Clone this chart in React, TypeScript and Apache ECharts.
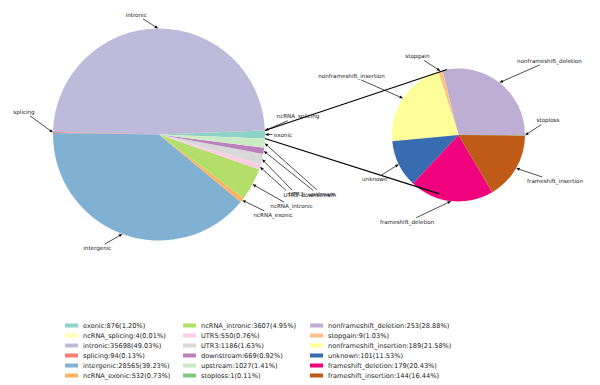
import React, { useEffect, useRef } from "react";
import * as echarts from "echarts";

// ---------- data ----------
const LEFT_NAMES = ["exonic", "ncRNA_splicing", "intronic", "splicing", "intergenic", "ncRNA_exonic", "ncRNA_intronic", "UTR5", "UTR3", "downstream", "upstream"];
const LEFT_VALUES = [876, 4, 35698, 94, 28565, 532, 3607, 550, 1186, 669, 1027];
const LEFT_COLORS = ["#8dd3c7", "#ffffb3", "#bebada", "#fb8072", "#80b1d3", "#fdb462", "#b3de69", "#fccde5", "#d9d9d9", "#bc80bd", "#ccebc5"];

const RIGHT_NAMES = ["nonframeshift_deletion", "stopgain", "nonframeshift_insertion", "unknown", "frameshift_deletion", "frameshift_insertion", "stoploss"];
const RIGHT_VALUES = [253, 9, 189, 101, 179, 144, 1];
const RIGHT_COLORS = ["#beaed4", "#fdc086", "#ffff99", "#386cb0", "#f0027f", "#bf5b17", "#7fc97f"];

const LEGEND_COL1 = ["exonic", "ncRNA_splicing", "intronic", "splicing", "intergenic", "ncRNA_exonic"];
const LEGEND_COL2 = ["ncRNA_intronic", "UTR5", "UTR3", "downstream", "upstream", "stoploss"];
const LEGEND_COL3 = ["nonframeshift_deletion", "stopgain", "nonframeshift_insertion", "unknown", "frameshift_deletion", "frameshift_insertion"];

// ---------- layout ----------
const LEFT_CENTER = [159, 134.5];
const LEFT_R = 106;
const RIGHT_CENTER = [458.5, 135];
const RIGHT_R = 66.5;
const FONT = "DejaVu Sans";
const LABEL_SIZE = 5.6;
const LEGEND_SIZE = 6.6;

// label text centre offset from arrow tip (px)
const LABEL_OFFSETS: Record<string, [number, number]> = {
  exonic: [18, 0],
  ncRNA_splicing: [33, -14],
  intronic: [-22, -14],
  splicing: [-29, -21],
  intergenic: [-25, 14.5],
  ncRNA_exonic: [31, 15],
  ncRNA_intronic: [39, 22],
  UTR5: [31, 28],
  UTR3: [34, 35],
  downstream: [55, 44],
  upstream: [57, 51],
  nonframeshift_deletion: [50, -22],
  stopgain: [-23, -15],
  nonframeshift_insertion: [-51.5, -22.5],
  unknown: [-24, 15],
  frameshift_deletion: [-44, 21],
  frameshift_insertion: [39, 13],
  stoploss: [23, -15],
};

const sum = (a: number[]) => a.reduce((s, v) => s + v, 0);
const LEFT_TOTAL = sum(LEFT_VALUES);
const RIGHT_TOTAL = sum(RIGHT_VALUES);
const LEFT_START = (-180 * LEFT_VALUES[0]) / LEFT_TOTAL;
const RIGHT_START = 0;

function midAngles(values: number[], start: number) {
  const total = sum(values);
  let acc = start;
  return values.map((v) => {
    const sweep = (v / total) * 360;
    const mid = acc + sweep / 2;
    acc += sweep;
    return mid;
  });
}

const rad = (d: number) => (d * Math.PI) / 180;
const polar = (c: number[], r: number, deg: number) => [c[0] + r * Math.cos(rad(deg)), c[1] - r * Math.sin(rad(deg))];

type Annot = { name: string; tip: number[] };
const LEFT_MIDS = midAngles(LEFT_VALUES, LEFT_START);
const RIGHT_MIDS = midAngles(RIGHT_VALUES, RIGHT_START);
const ANNOTS: Annot[] = [
  ...LEFT_NAMES.map((n, i) => ({ name: n, tip: polar(LEFT_CENTER, LEFT_R, LEFT_MIDS[i]) })),
  ...RIGHT_NAMES.map((n, i) => ({ name: n, tip: polar(RIGHT_CENTER, RIGHT_R, RIGHT_MIDS[i]) })),
];

const LEGEND_TEXT: Record<string, string> = {};
LEFT_NAMES.forEach((n, i) => {
  LEGEND_TEXT[n] = `${n}:${LEFT_VALUES[i]}(${((LEFT_VALUES[i] / LEFT_TOTAL) * 100).toFixed(2)}%)`;
});
RIGHT_NAMES.forEach((n, i) => {
  LEGEND_TEXT[n] = `${n}:${RIGHT_VALUES[i]}(${((RIGHT_VALUES[i] / RIGHT_TOTAL) * 100).toFixed(2)}%)`;
});

let ctx: CanvasRenderingContext2D | null = null;
function textWidth(t: string) {
  if (!ctx) ctx = document.createElement("canvas").getContext("2d");
  if (!ctx) return t.length * 3.2;
  ctx.font = `${LABEL_SIZE}px "${FONT}"`;
  return ctx.measureText(t).width;
}

function renderAnnot(params: any) {
  const a = ANNOTS[params.dataIndex];
  const off = LABEL_OFFSETS[a.name] || [20, 0];
  const cx = a.tip[0] + off[0];
  const cy = a.tip[1] + off[1];
  const hw = textWidth(a.name) / 2 + 1.5;
  const hh = LABEL_SIZE / 2 + 1.5;
  const dx = a.tip[0] - cx;
  const dy = a.tip[1] - cy;
  const t = Math.min(dx !== 0 ? hw / Math.abs(dx) : Infinity, dy !== 0 ? hh / Math.abs(dy) : Infinity);
  const sx = cx + dx * Math.min(t, 1);
  const sy = cy + dy * Math.min(t, 1);
  const len = Math.hypot(a.tip[0] - sx, a.tip[1] - sy) || 1;
  const ux = (a.tip[0] - sx) / len;
  const uy = (a.tip[1] - sy) / len;
  const hl = 3.6;
  const hwid = 1.5;
  const bx = a.tip[0] - ux * hl;
  const by = a.tip[1] - uy * hl;
  const children: any[] = [
    {
      type: "line",
      shape: { x1: sx, y1: sy, x2: bx, y2: by },
      style: { stroke: "#000", lineWidth: 0.7 },
    },
    {
      type: "polygon",
      shape: {
        points: [
          [a.tip[0], a.tip[1]],
          [bx - uy * hwid, by + ux * hwid],
          [bx + uy * hwid, by - ux * hwid],
        ],
      },
      style: { fill: "#000" },
    },
    {
      type: "text",
      x: cx,
      y: cy,
      style: {
        text: a.name,
        fontSize: LABEL_SIZE,
        fontFamily: FONT,
        fill: "#1a1a1a",
        align: "center",
        verticalAlign: "middle",
      },
    },
  ];
  return { type: "group", children };
}

function renderConnect() {
  const p1 = polar(LEFT_CENTER, LEFT_R, -LEFT_START);
  const p2 = polar(LEFT_CENTER, LEFT_R, LEFT_START);
  const q1 = polar(RIGHT_CENTER, RIGHT_R, 100);
  const q2 = polar(RIGHT_CENTER, RIGHT_R * 0.93, 252);
  return {
    type: "group",
    children: [
      { type: "line", shape: { x1: p1[0], y1: p1[1], x2: q1[0], y2: q1[1] }, style: { stroke: "#000", lineWidth: 1.2 } },
      { type: "line", shape: { x1: p2[0], y1: p2[1], x2: q2[0], y2: q2[1] }, style: { stroke: "#000", lineWidth: 1.2 } },
    ],
  };
}

function makeLegend(names: string[], left: number) {
  return {
    data: names.map((n) => ({ name: n, icon: "rect" })),
    orient: "vertical",
    left,
    top: 320.5,
    padding: 0,
    itemGap: 0,
    itemWidth: 13,
    itemHeight: 4,
    selectedMode: false,
    formatter: (n: string) => LEGEND_TEXT[n] || n,
    textStyle: { fontSize: LEGEND_SIZE, fontFamily: FONT, color: "#1a1a1a", lineHeight: 10, padding: 0 },
  };
}

export default function App() {
  const ref = useRef<HTMLDivElement>(null);
  useEffect(() => {
    document.body.style.margin = "0";
    const chart = echarts.init(ref.current!, null, { renderer: "svg" });
    const option: any = {
      animation: false,
      backgroundColor: "#fff",
      legend: [makeLegend(LEGEND_COL1, 65), makeLegend(LEGEND_COL2, 183), makeLegend(LEGEND_COL3, 310)],
      series: [
        {
          type: "pie",
          center: LEFT_CENTER,
          radius: LEFT_R,
          startAngle: LEFT_START,
          clockwise: false,
          label: { show: false },
          labelLine: { show: false },
          emphasis: { disabled: true },
          itemStyle: { borderWidth: 0 },
          data: LEFT_NAMES.map((n, i) => ({ name: n, value: LEFT_VALUES[i], itemStyle: { color: LEFT_COLORS[i] } })),
          z: 2,
        },
        {
          type: "pie",
          center: RIGHT_CENTER,
          radius: RIGHT_R,
          startAngle: RIGHT_START,
          clockwise: false,
          label: { show: false },
          labelLine: { show: false },
          emphasis: { disabled: true },
          itemStyle: { borderWidth: 0 },
          data: RIGHT_NAMES.map((n, i) => ({ name: n, value: RIGHT_VALUES[i], itemStyle: { color: RIGHT_COLORS[i] } })),
          z: 2,
        },
        {
          type: "custom",
          coordinateSystem: "none",
          silent: true,
          z: 5,
          data: ANNOTS.map((_, i) => [i]),
          renderItem: (params: any) => renderAnnot(params),
        },
        {
          type: "custom",
          coordinateSystem: "none",
          silent: true,
          z: 6,
          data: [[0]],
          renderItem: () => renderConnect(),
        },
      ],
    };
    chart.setOption(option);
    return () => chart.dispose();
  }, []);
  return <div ref={ref} style={{ width: 600, height: 385 }} />;
}
